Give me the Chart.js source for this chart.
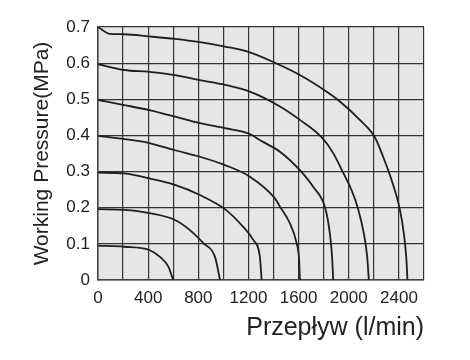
<!DOCTYPE html>
<html>
<head>
<meta charset="utf-8">
<script src="https://cdn.jsdelivr.net/npm/chart.js@4/dist/chart.umd.min.js"></script>
<style>
  html, body { margin: 0; padding: 0; background: #ffffff; }
  #wrap { width: 470px; height: 360px; }
</style>
</head>
<body>
<div id="wrap"><canvas id="c" width="470" height="360"></canvas></div>
<script>
// ---- data ----
const xTickLabels = ['0', '400', '800', '1200', '1600', '2000', '2400'];
const yTickLabels = ['0', '0.1', '0.2', '0.3', '0.4', '0.5', '0.6', '0.7'];

const curve07x = [0, 96, 210, 409, 614, 813, 1012, 1211, 1411, 1610, 1815, 1915, 2088, 2208, 2274, 2341, 2407, 2439, 2460, 2468];
const curve07y = [0.70, 0.681, 0.680, 0.674, 0.667, 0.658, 0.646, 0.630, 0.601, 0.567, 0.523, 0.498, 0.443, 0.395, 0.341, 0.277, 0.196, 0.129, 0.055, 0];

const curve06x = [0, 210, 409, 614, 813, 1012, 1211, 1451, 1610, 1783, 1876, 1955, 2022, 2075, 2120, 2147, 2160];
const curve06y = [0.597, 0.581, 0.576, 0.567, 0.553, 0.540, 0.521, 0.480, 0.443, 0.395, 0.351, 0.297, 0.249, 0.196, 0.129, 0.064, 0];

const curve05x = [0, 210, 409, 614, 813, 1012, 1211, 1300, 1451, 1610, 1716, 1815, 1849, 1867, 1876];
const curve05y = [0.498, 0.484, 0.470, 0.452, 0.434, 0.420, 0.404, 0.385, 0.355, 0.304, 0.258, 0.196, 0.129, 0.064, 0];

const curve04x = [0, 210, 409, 614, 813, 1012, 1211, 1411, 1451, 1530, 1584, 1604, 1610];
const curve04y = [0.399, 0.390, 0.379, 0.359, 0.341, 0.318, 0.286, 0.226, 0.203, 0.157, 0.102, 0.055, 0];

const curve03x = [0, 210, 409, 614, 813, 1012, 1158, 1238, 1291, 1305];
const curve03y = [0.297, 0.295, 0.281, 0.263, 0.235, 0.196, 0.147, 0.111, 0.064, 0];

const curve02x = [0, 210, 409, 614, 733, 840, 933, 973];
const curve02y = [0.196, 0.194, 0.185, 0.166, 0.138, 0.102, 0.064, 0];

const curve01x = [0, 210, 409, 494, 561, 600];
const curve01y = [0.095, 0.092, 0.083, 0.064, 0.037, 0];

const xMax = 2600, xStep = 200;
const yMax = 0.7, yStep = 0.1;

// ---- build chart ----
const curves = [
  [curve07x, curve07y], [curve06x, curve06y], [curve05x, curve05y],
  [curve04x, curve04y], [curve03x, curve03y], [curve02x, curve02y], [curve01x, curve01y]
];
const datasets = curves.map(([xs, ys]) => ({
  data: xs.map((x, i) => ({ x: x, y: ys[i] })),
  showLine: true,
  borderColor: '#1e1e1e',
  borderWidth: 1.8,
  pointRadius: 0,
  cubicInterpolationMode: 'monotone',
  fill: false
}));

const bgPlugin = {
  id: 'plotBg',
  beforeDraw(chart) {
    const { ctx, chartArea: a } = chart;
    ctx.save();
    ctx.fillStyle = '#e6e6e8';
    ctx.fillRect(a.left, a.top, a.right - a.left, a.bottom - a.top);
    ctx.restore();
  }
};

const FONT = "'Liberation Sans', Arial, sans-serif";

new Chart(document.getElementById('c'), {
  type: 'scatter',
  data: { datasets },
  plugins: [bgPlugin],
  options: {
    responsive: false,
    animation: false,
    layout: { padding: { top: 27, right: 46, bottom: 0, left: 0 } },
    plugins: { legend: { display: false }, tooltip: { enabled: false } },
    scales: {
      x: {
        type: 'linear',
        min: 0, max: xMax,
        afterFit(s) { s.height = 80; },
        ticks: {
          stepSize: xStep,
          autoSkip: false,
          maxRotation: 0,
          padding: 8,
          color: '#222',
          font: { family: FONT, size: 17 },
          callback(v) {
            const i = Math.round(v / 400);
            return (Math.abs(v - i * 400) < 1e-6 && i < xTickLabels.length) ? xTickLabels[i] : '';
          }
        },
        grid: { color: '#333', lineWidth: 1.2, drawTicks: false },
        border: { color: '#444', width: 1.5 },
        title: {
          display: true,
          text: 'Przepływ (l/min)',
          align: 'end',
          color: '#222',
          font: { family: FONT, size: 25 },
          padding: { top: 0, bottom: 17 }
        }
      },
      y: {
        type: 'linear',
        min: 0, max: yMax,
        afterFit(s) { s.width = 98; },
        ticks: {
          stepSize: yStep,
          padding: 8,
          color: '#222',
          font: { family: FONT, size: 17 },
          callback(v) {
            const i = Math.round(v / yStep);
            return yTickLabels[i] !== undefined ? yTickLabels[i] : '';
          }
        },
        grid: { color: '#333', lineWidth: 1.2, drawTicks: false },
        border: { color: '#444', width: 1.5 },
        title: {
          display: true,
          text: 'Working Pressure(MPa)',
          color: '#222',
          font: { family: FONT, size: 21 },
          padding: { top: 30, bottom: 0 }
        }
      }
    }
  }
});
</script>
</body>
</html>
